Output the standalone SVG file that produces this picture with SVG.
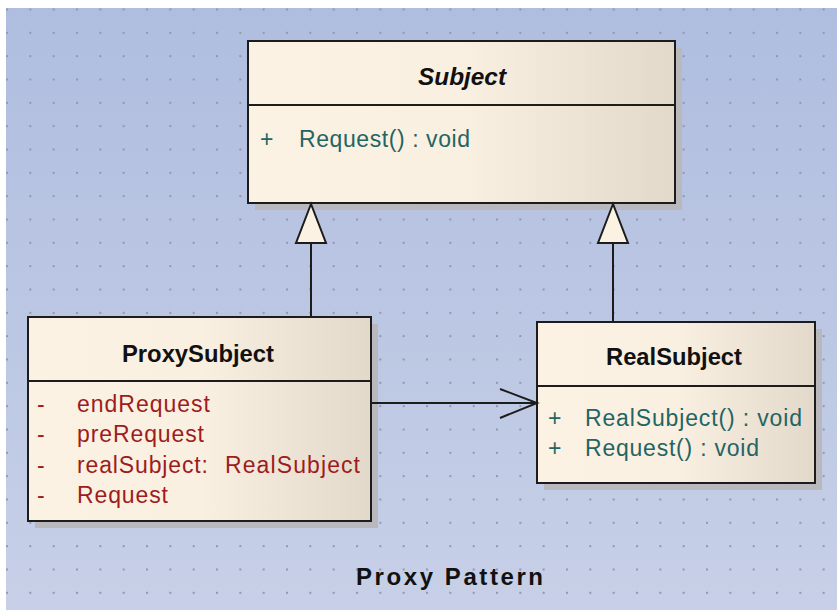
<svg xmlns="http://www.w3.org/2000/svg" width="837" height="610" viewBox="0 0 837 610">
  <defs>
    <linearGradient id="bg" x1="0" y1="0" x2="0" y2="1">
      <stop offset="0" stop-color="#afbddf"/>
      <stop offset="1" stop-color="#c7d0e7"/>
    </linearGradient>
    <linearGradient id="boxfill" x1="0" y1="0" x2="1" y2="0">
      <stop offset="0" stop-color="#fcf2e3"/>
      <stop offset="0.5" stop-color="#faf0e1"/>
      <stop offset="1" stop-color="#e2d9cb"/>
    </linearGradient>
    <pattern id="dots" patternUnits="userSpaceOnUse" x="6" y="8.5" width="23.333" height="23.333">
      <rect x="0" y="0" width="2" height="2" fill="#8e98b4"/>
    </pattern>
  </defs>
  <style>
    .box { fill: url(#boxfill); stroke: #1c1c1c; stroke-width: 2; }
    .shadow { fill: #b9b9bd; }
    .sep { stroke: #1c1c1c; stroke-width: 2; }
    .title { font-family: "Liberation Sans", Arial, sans-serif; font-weight: bold; font-size: 23px; fill: #111; }
    .italic { font-style: italic; }
    .mem { font-family: "Liberation Sans", Arial, sans-serif; font-size: 23px; }
    .pub { fill: #236464; }
    .priv { fill: #9e1c1c; }
    .line { stroke: #1c1c1c; stroke-width: 2; fill: none; }
    .tri { fill: #fcf2e3; stroke: #1c1c1c; stroke-width: 2; stroke-linejoin: miter; }
    .caption { font-family: "Liberation Sans", Arial, sans-serif; font-weight: bold; font-size: 24px; fill: #111; }
  </style>

  <rect x="0" y="0" width="837" height="610" fill="#ffffff"/>
  <rect x="6" y="8" width="831" height="602" fill="url(#bg)"/>
  <rect x="6" y="8" width="831" height="602" fill="url(#dots)"/>

  <g id="Subject">
    <rect class="shadow" x="255" y="48" width="427" height="162"/>
    <rect class="box" x="248" y="41" width="427" height="162"/>
    <line class="sep" x1="248" y1="105" x2="675" y2="105"/>
    <text class="title italic" x="462" y="85" text-anchor="middle" textLength="88" lengthAdjust="spacingAndGlyphs">Subject</text>
    <text class="mem pub" x="260" y="147">+</text>
    <text class="mem pub" x="299" y="147" textLength="171" lengthAdjust="spacing">Request() : void</text>
  </g>

  <g id="ProxySubject">
    <rect class="shadow" x="35" y="324" width="343" height="204"/>
    <rect class="box" x="28" y="317" width="343" height="204"/>
    <line class="sep" x1="28" y1="381" x2="371" y2="381"/>
    <text class="title" x="198" y="362" text-anchor="middle" textLength="152" lengthAdjust="spacingAndGlyphs">ProxySubject</text>
    <text class="mem priv" x="37" y="412">-</text>
    <text class="mem priv" x="77" y="412" textLength="133" lengthAdjust="spacing">endRequest</text>
    <text class="mem priv" x="37" y="442">-</text>
    <text class="mem priv" x="77" y="442" textLength="127" lengthAdjust="spacing">preRequest</text>
    <text class="mem priv" x="37" y="473">-</text>
    <text class="mem priv" x="77" y="473" textLength="131" lengthAdjust="spacing">realSubject:</text>
    <text class="mem priv" x="225" y="473" textLength="135" lengthAdjust="spacing">RealSubject</text>
    <text class="mem priv" x="37" y="503">-</text>
    <text class="mem priv" x="77" y="503" textLength="91" lengthAdjust="spacing">Request</text>
  </g>

  <g id="RealSubject">
    <rect class="shadow" x="544" y="329" width="278" height="161"/>
    <rect class="box" x="537" y="322" width="278" height="161"/>
    <line class="sep" x1="537" y1="386" x2="815" y2="386"/>
    <text class="title" x="674" y="365" text-anchor="middle" textLength="136" lengthAdjust="spacingAndGlyphs">RealSubject</text>
    <text class="mem pub" x="548" y="426">+</text>
    <text class="mem pub" x="585" y="426" textLength="217" lengthAdjust="spacing">RealSubject() : void</text>
    <text class="mem pub" x="548" y="456">+</text>
    <text class="mem pub" x="585" y="456" textLength="174" lengthAdjust="spacing">Request() : void</text>
  </g>

  <g id="connectors">
    <line class="line" x1="311" y1="316" x2="311" y2="243"/>
    <polygon class="tri" points="311,204 296,243 326,243"/>
    <line class="line" x1="613" y1="321" x2="613" y2="243"/>
    <polygon class="tri" points="613,204 598,243 628,243"/>
    <line class="line" x1="372" y1="403" x2="536" y2="403"/>
    <polyline class="line" points="500,389 537,403 500,418"/>
  </g>

  <text class="caption" x="356" y="585" textLength="187" lengthAdjust="spacing">Proxy Pattern</text>
</svg>
